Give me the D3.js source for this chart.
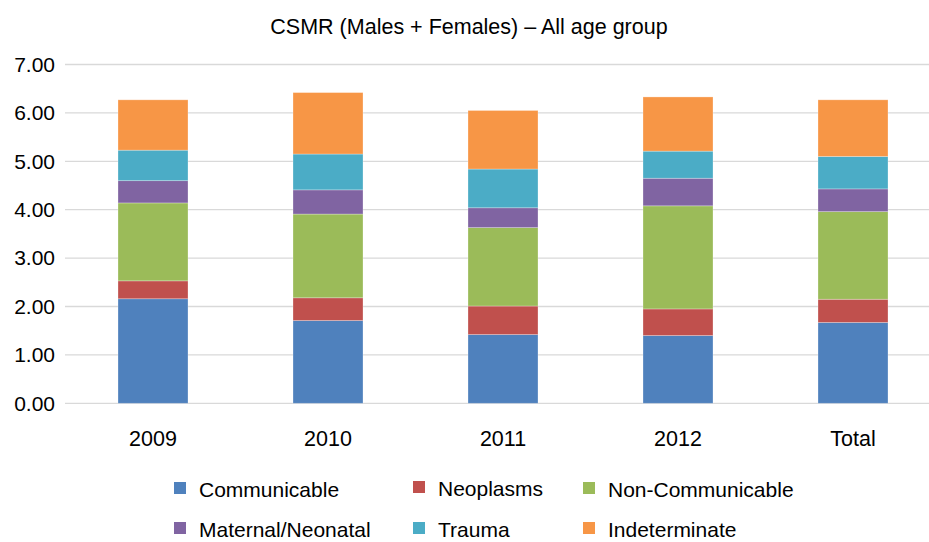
<!DOCTYPE html>
<html>
<head>
<meta charset="utf-8">
<title>CSMR stacked bars</title>
<style>
	body { margin: 0; background: #fff; }
	svg text { font-family: "Liberation Sans", Arial, sans-serif; fill: #000; }
	.grid line { stroke: #d9d9d9; stroke-width: 1.3; }
</style>
</head>
<body>
<div id="chart"></div>
<script src="https://cdn.jsdelivr.net/npm/d3@7/dist/d3.min.js"></script>
<script>
// categories and series
var categories = ["2009", "2010", "2011", "2012", "Total"];
var seriesNames = ["Communicable", "Neoplasms", "Non-Communicable", "Maternal/Neonatal", "Trauma", "Indeterminate"];
var communicable = [2.16, 1.71, 1.42, 1.40, 1.67];
var neoplasms = [0.37, 0.47, 0.59, 0.55, 0.48];
var nonCommunicable = [1.61, 1.73, 1.62, 2.13, 1.81];
var maternalNeonatal = [0.46, 0.50, 0.41, 0.57, 0.47];
var trauma = [0.63, 0.74, 0.80, 0.56, 0.67];
var indeterminate = [1.04, 1.27, 1.21, 1.12, 1.17];
var yTicks = [0, 1, 2, 3, 4, 5, 6, 7];

var colors = ["#4f81bd", "#c0504d", "#9bbb59", "#8064a2", "#4bacc6", "#f79646"];

var width = 929, height = 542;

var rows = categories.map(function(c, i) {
	return {
		cat: c,
		"Communicable": communicable[i],
		"Neoplasms": neoplasms[i],
		"Non-Communicable": nonCommunicable[i],
		"Maternal/Neonatal": maternalNeonatal[i],
		"Trauma": trauma[i],
		"Indeterminate": indeterminate[i]
	};
});

var svg = d3.select("#chart").append("svg")
	.attr("width", width)
	.attr("height", height);

var x = d3.scaleBand()
	.domain(categories)
	.range([65.5, 940.5])
	.paddingInner(0.6)
	.paddingOuter(0.3);

var y = d3.scaleLinear()
	.domain([0, 7])
	.range([403.3, 64.5]);

var color = d3.scaleOrdinal().domain(seriesNames).range(colors);

// title
svg.append("text")
	.attr("x", 469)
	.attr("y", 34)
	.attr("text-anchor", "middle")
	.style("font-size", "21.5px")
	.text("CSMR (Males + Females) \u2013 All age group");

// gridlines
svg.append("g")
	.attr("class", "grid")
	.selectAll("line")
	.data(yTicks)
	.enter().append("line")
	.attr("x1", 65)
	.attr("x2", width)
	.attr("y1", function(d) { return y(d); })
	.attr("y2", function(d) { return y(d); });

// y axis
var yAxis = svg.append("g")
	.attr("transform", "translate(55,0)")
	.call(d3.axisLeft(y).tickValues(yTicks).tickFormat(d3.format(".2f")).tickSize(0).tickPadding(0));
yAxis.select(".domain").remove();
yAxis.selectAll("text")
	.style("font-size", "21px")
	.style("font-family", "Liberation Sans, Arial, sans-serif");

// bars
var stack = d3.stack().keys(seriesNames)(rows);

svg.append("g")
	.selectAll("g")
	.data(stack)
	.enter().append("g")
	.attr("fill", function(d) { return color(d.key); })
	.selectAll("rect")
	.data(function(d) { return d; })
	.enter().append("rect")
	.attr("x", function(d) { return x(d.data.cat); })
	.attr("width", x.bandwidth())
	.attr("y", function(d) { return y(d[1]); })
	.attr("height", function(d) { return y(d[0]) - y(d[1]); })
	.attr("stroke", "#ffffff")
	.attr("stroke-opacity", 0.35)
	.attr("stroke-width", 0.8);

// x axis
var xAxis = svg.append("g")
	.attr("transform", "translate(0,403.3)")
	.call(d3.axisBottom(x).tickSize(0).tickPadding(27));
xAxis.select(".domain").remove();
xAxis.selectAll("text")
	.style("font-size", "21.5px")
	.style("font-family", "Liberation Sans, Arial, sans-serif");

// legend
var legendPos = [
	{x: 174, y: 488}, {x: 413, y: 487}, {x: 583, y: 488},
	{x: 174, y: 528}, {x: 413, y: 528}, {x: 583, y: 528}
];

var legend = svg.append("g")
	.selectAll("g")
	.data(seriesNames)
	.enter().append("g")
	.attr("transform", function(d, i) { return "translate(" + legendPos[i].x + "," + legendPos[i].y + ")"; });

legend.append("rect")
	.attr("x", 0)
	.attr("y", -6)
	.attr("width", 12)
	.attr("height", 12)
	.attr("fill", function(d) { return color(d); });

legend.append("text")
	.attr("x", 25)
	.attr("y", 9)
	.style("font-size", "21px")
	.text(function(d) { return d; });
</script>
</body>
</html>
